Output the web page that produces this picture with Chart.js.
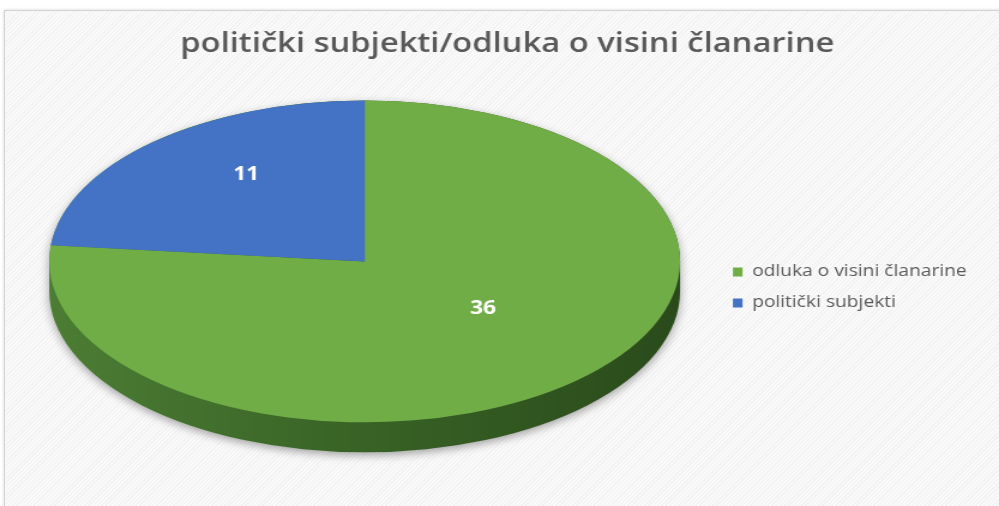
<!DOCTYPE html>
<html>
<head>
<meta charset="utf-8">
<script src="https://cdn.jsdelivr.net/npm/chart.js@4.4.1/dist/chart.umd.min.js"></script>
<style>
    html, body { margin: 0; padding: 0; background: #fff; overflow: hidden; }
    #okvir {
        position: absolute; left: 4px; top: 10px; width: 1000px; height: 500px;
        border: 1px solid #d4d4d4;
        box-shadow: 0 0 3px rgba(0, 0, 0, 0.18);
        background: repeating-linear-gradient(-45deg, #f2f2f2 0px, #f2f2f2 1px, #f9f9f9 1px, #f9f9f9 3px);
    }
    #grafikon { position: absolute; left: 0; top: 0; }
</style>
</head>
<body>
<div id="okvir"></div>
<!-- original je rastegnut vodoravno (~1.2x), pa i platno rastežemo CSS-om -->
<canvas id="grafikon" width="833" height="506" style="width:999px;height:506px"></canvas>
<script>
// Podaci
const naslov = 'politički subjekti/odluka o visini članarine';
const kategorije = ['odluka o visini članarine', 'politički subjekti'];
const vrijednosti = [36, 11];
const boje = ['#70ad47', '#4472c4'];

// Plugin koji "nagne" pitu (elipsa + bočna strana) i ispiše vrijednosti
const nagibPlugin = {
    id: 'nagib',
    beforeDatasetsDraw(chart, args, opts) {
        const luk = chart.getDatasetMeta(0).data[0];
        if (!luk) return;
        const ctx = chart.ctx;
        const cx = luk.x, cy = luk.y, r = luk.outerRadius;
        const k = opts.omjer;
        const cxV = cx + opts.pomakX;
        const cyV = cy + opts.pomak;
        const ry = r * k;

        // bočna strana
        ctx.save();
        const grad = ctx.createLinearGradient(cxV - r, 0, cxV + r, 0);
        grad.addColorStop(0, '#4c7d34');
        grad.addColorStop(0.45, '#3a6527');
        grad.addColorStop(1, '#2a4a1b');
        ctx.fillStyle = grad;
        ctx.shadowColor = 'rgba(0, 0, 0, 0.35)';
        ctx.shadowBlur = 8;
        ctx.shadowOffsetY = 3;
        ctx.beginPath();
        ctx.ellipse(cxV, cyV + opts.dubina, r, ry, 0, 0, Math.PI);
        ctx.lineTo(cxV - r, cyV);
        ctx.ellipse(cxV, cyV, r, ry, 0, Math.PI, 2 * Math.PI);
        ctx.closePath();
        ctx.fill();
        ctx.restore();

        ctx.save();
        ctx.translate(cxV, cyV);
        ctx.scale(1, k);
        ctx.translate(-cx, -cy);
    },
    afterDatasetsDraw(chart, args, opts) {
        const ctx = chart.ctx;
        ctx.restore();
        const meta = chart.getDatasetMeta(0);
        ctx.save();
        ctx.fillStyle = '#ffffff';
        ctx.font = 'bold 19px "Open Sans"';
        ctx.textAlign = 'center';
        ctx.textBaseline = 'middle';
        meta.data.forEach((luk, i) => {
            const sredina = (luk.startAngle + luk.endAngle) / 2;
            const rr = luk.outerRadius * opts.oznakaR;
            const x = luk.x + opts.pomakX + Math.cos(sredina) * rr;
            const y = luk.y + opts.pomak + Math.sin(sredina) * rr * opts.omjer + opts.oznakaPomak;
            ctx.fillText(String(vrijednosti[i]), x, y);
        });
        ctx.restore();
    }
};

const ctx = document.getElementById('grafikon').getContext('2d');
new Chart(ctx, {
    type: 'pie',
    data: {
        labels: kategorije,
        datasets: [{
            data: vrijednosti,
            backgroundColor: boje,
            borderWidth: 0,
            clip: false
        }]
    },
    options: {
        responsive: false,
        animation: false,
        radius: 263,
        layout: { padding: { left: 30, right: 17, top: 10, bottom: 2 } },
        plugins: {
            title: {
                display: true,
                text: naslov,
                color: '#595959',
                font: { size: 27.3, weight: '600', family: '"Open Sans"' },
                padding: { top: 18, bottom: 10 }
            },
            legend: {
                position: 'right',
                fullSize: false,
                labels: {
                    color: '#595959',
                    font: { size: 16, family: '"Open Sans"' },
                    boxWidth: 8,
                    boxHeight: 9,
                    padding: 15
                }
            },
            tooltip: { enabled: false },
            nagib: { omjer: 0.612, pomak: -26, pomakX: -9, dubina: 30, oznakaR: 0.56, oznakaPomak: -20 }
        }
    },
    plugins: [nagibPlugin]
});
</script>
</body>
</html>
